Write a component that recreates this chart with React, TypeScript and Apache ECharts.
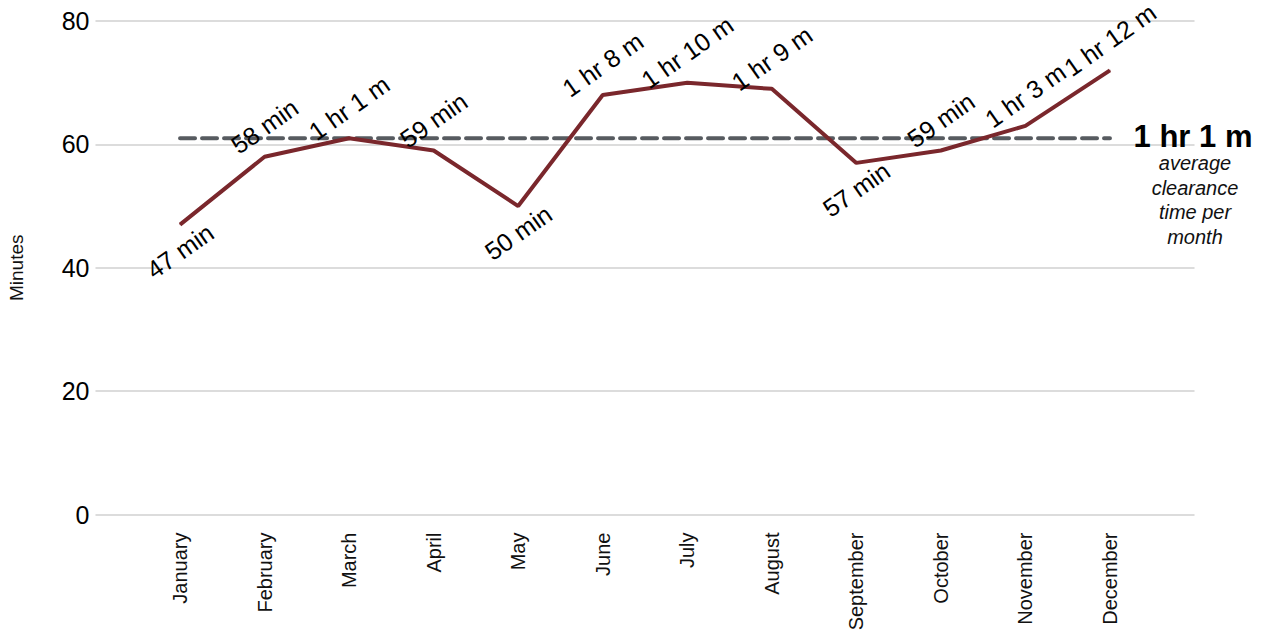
import React, { useEffect, useRef } from "react";
import * as echarts from "echarts";

// Monthly average clearance time, in minutes
const months = [
  "January", "February", "March", "April", "May", "June",
  "July", "August", "September", "October", "November", "December",
];
const clearanceMinutes = [47, 58, 61, 59, 50, 68, 70, 69, 57, 59, 63, 72];
const averageMinutes = 61;
const averageNote = ["average", "clearance", "time per", "month"];
const yTicks = [0, 20, 40, 60, 80];

const FONT = "Arial, 'Liberation Sans', Helvetica, sans-serif";

function formatDuration(mins: number): string {
  if (mins < 60) return `${mins} min`;
  const h = Math.floor(mins / 60);
  const m = mins - h * 60;
  return `${h} hr ${m} m`;
}

export default function App() {
  const ref = useRef<HTMLDivElement>(null);

  useEffect(() => {
    if (!ref.current) return;
    const chart = echarts.init(ref.current, undefined, { renderer: "svg" });

    // Dips (local minima) carry their label below the line, others above
    const lineData = clearanceMinutes.map((v, i) => {
      const prev = i > 0 ? clearanceMinutes[i - 1] : Infinity;
      const next = i < clearanceMinutes.length - 1 ? clearanceMinutes[i + 1] : Infinity;
      const isDip = v < prev && v < next;
      return {
        value: [i, v],
        label: {
          position: isDip ? "bottom" : "top",
          distance: isDip ? 26 : 30,
        },
      };
    });

    chart.setOption({
      animation: false,
      backgroundColor: "#ffffff",
      grid: {
        left: 95.5,
        right: 73.5,
        top: 21,
        bottom: 121.5,
        containLabel: false,
        outerBoundsMode: "none",
      },
      xAxis: {
        type: "value",
        min: -1,
        max: 12,
        interval: 1,
        axisLine: { show: false },
        axisTick: { show: false },
        splitLine: { show: false },
        axisLabel: {
          rotate: 90,
          margin: 18,
          fontSize: 20,
          fontFamily: FONT,
          color: "#111",
          formatter: (v: number) =>
            Number.isInteger(v) && v >= 0 && v < months.length ? months[v] : "",
        },
      },
      yAxis: {
        type: "value",
        min: yTicks[0],
        max: yTicks[yTicks.length - 1],
        interval: yTicks[1] - yTicks[0],
        name: "Minutes",
        nameLocation: "middle",
        nameRotate: 90,
        nameGap: 70,
        nameTextStyle: { fontSize: 19, fontFamily: FONT, color: "#111" },
        axisLine: { show: false },
        axisTick: { show: false },
        axisLabel: { fontSize: 25, fontFamily: FONT, color: "#000", margin: 6 },
        splitLine: { lineStyle: { color: "#dcdcdc", width: 2 } },
      },
      series: [
        {
          type: "line",
          name: "Average",
          data: [
            [0, averageMinutes],
            [months.length - 1, averageMinutes],
          ],
          symbol: "none",
          lineStyle: { color: "#575b60", width: 4, type: [15, 7], cap: "round" },
          z: 2,
          silent: true,
        },
        {
          type: "line",
          name: "Clearance time",
          data: lineData,
          symbol: "circle",
          symbolSize: 1,
          showSymbol: true,
          itemStyle: { color: "#7a272c" },
          lineStyle: { color: "#7a272c", width: 4 },
          z: 3,
          label: {
            show: true,
            rotate: 35,
            align: "center",
            verticalAlign: "middle",
            fontSize: 25,
            fontFamily: FONT,
            color: "#000",
            formatter: (p: any) => formatDuration(p.value[1]),
          },
        },
      ],
      graphic: [
        {
          type: "text",
          x: 1193,
          y: 136,
          z: 100,
          style: {
            text: formatDuration(averageMinutes),
            fontSize: 31,
            fontWeight: "bold",
            fontFamily: FONT,
            fill: "#000",
            align: "center",
            verticalAlign: "middle",
          },
        },
        {
          type: "text",
          x: 1195,
          y: 151,
          z: 100,
          style: {
            text: averageNote.join("\n"),
            fontSize: 20,
            lineHeight: 24.5,
            fontStyle: "italic",
            fontFamily: FONT,
            fill: "#111",
            align: "center",
            verticalAlign: "top",
          },
        },
      ],
    });

    return () => chart.dispose();
  }, []);

  return (
    <div
      ref={ref}
      style={{ position: "fixed", left: 0, top: 0, width: 1268, height: 636 }}
    />
  );
}
